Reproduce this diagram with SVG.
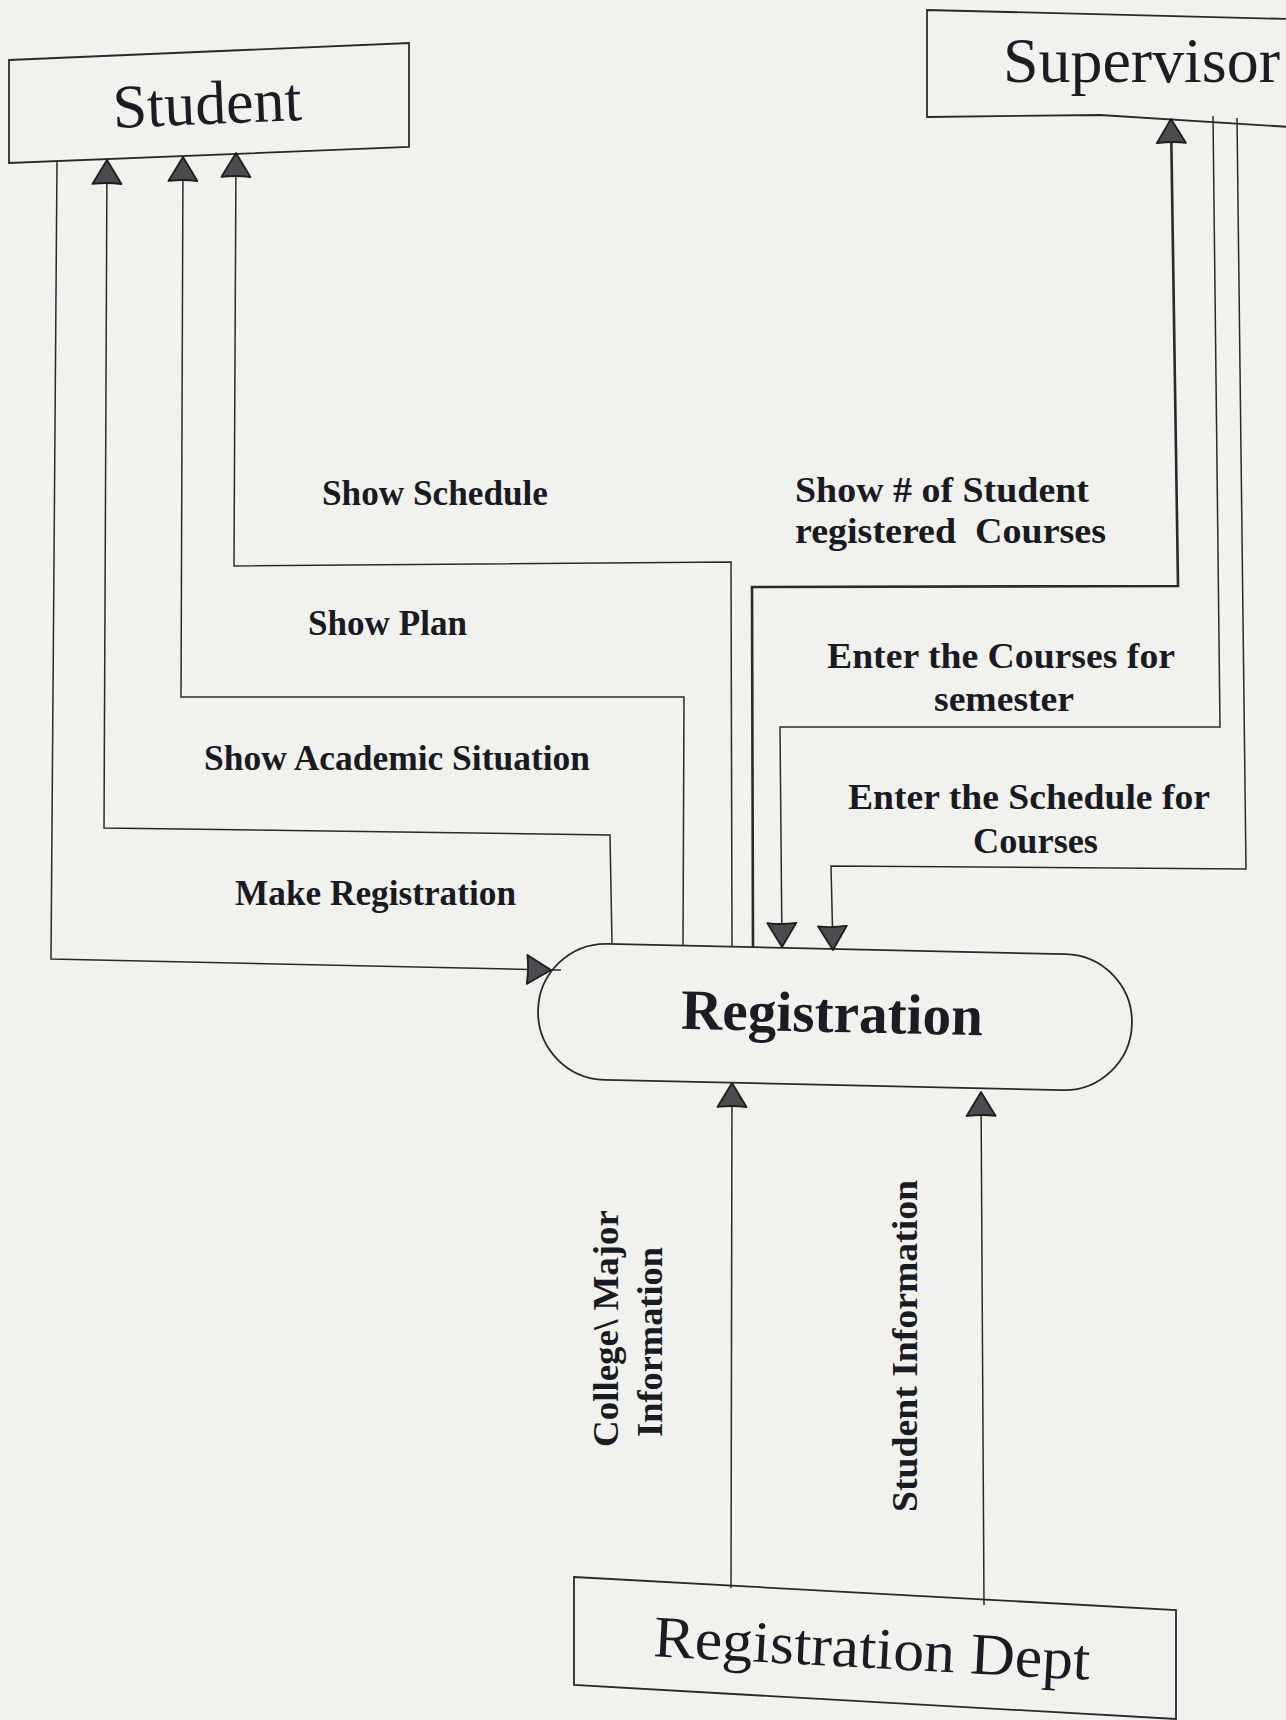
<svg xmlns="http://www.w3.org/2000/svg" width="1286" height="1720" viewBox="0 0 1286 1720">
  <style>
    .bg { fill: #f1f2ee; }
    .box { fill: none; stroke: #2a2a2a; stroke-width: 1.8; stroke-linejoin: miter; }
    .ext { font-family: "Liberation Serif", "Times New Roman", serif; font-weight: normal; fill: #1c1c24; }
    .proc { font-family: "Liberation Serif", "Times New Roman", serif; font-weight: bold; fill: #1c1c24; }
    .lbl { font-family: "Liberation Serif", "Times New Roman", serif; font-weight: bold; font-size: 35px; fill: #1a1a22; }
    .vlbl { font-family: "Liberation Serif", "Times New Roman", serif; font-weight: bold; font-size: 36px; fill: #1a1a22; }
    .flow { fill: none; stroke: #2a2a2a; stroke-width: 1.5; stroke-linejoin: miter; }
    .flow.thick { stroke-width: 2.6; }
  </style>
  <defs>
    <marker id="arrow" viewBox="0 0 26 32" refX="25" refY="16" markerWidth="26" markerHeight="32" markerUnits="userSpaceOnUse" orient="auto">
      <path d="M1,1.5 Q3,16 1,30.5 L25,16 Z" fill="#4c4c50" stroke="#1e1e1e" stroke-width="1.8" stroke-linejoin="round"/>
    </marker>
  </defs>

  <rect class="bg" x="0" y="0" width="1286" height="1720"/>

  <g id="student">
    <polygon class="box" points="9,60 409,43 409,147 9,163"/>
    <text class="ext" x="207" y="124" font-size="62" text-anchor="middle" textLength="189" lengthAdjust="spacingAndGlyphs" transform="rotate(-2.4 207 103)">Student</text>
  </g>

  <g id="supervisor">
    <path class="box" d="M1290,19 L927,10 L927,117 L1100,115 L1290,127"/>
    <text class="ext" x="1003" y="82" font-size="64" textLength="277" lengthAdjust="spacingAndGlyphs">Supervisor</text>
  </g>

  <g id="registration">
    <rect class="box" x="538" y="949" width="594" height="136" rx="68" ry="68" transform="rotate(1.3 835 1017)"/>
    <text class="proc" x="832" y="1032" font-size="57" text-anchor="middle" textLength="302" lengthAdjust="spacingAndGlyphs" transform="rotate(1.2 832 1017)">Registration</text>
  </g>

  <g id="registration-dept">
    <polygon class="box" points="574,1577 1176,1610 1176,1719 574,1685"/>
    <text class="ext" x="872" y="1668" font-size="59" text-anchor="middle" textLength="437" lengthAdjust="spacingAndGlyphs" transform="rotate(3.1 872 1650)">Registration Dept</text>
  </g>

  <g id="connectors">
    <!-- Make Registration: Student -> Registration -->
    <polyline class="flow" points="57,161 51,959 551,970" marker-end="url(#arrow)"/>
    <line class="flow" x1="551" y1="970" x2="561" y2="970"/>
    <!-- Show Academic Situation: Registration -> Student -->
    <polyline class="flow" points="612,944 610,835 104,828 107,160" marker-end="url(#arrow)"/>
    <!-- Show Plan -->
    <polyline class="flow" points="683,946 684,697 181,697 183,157" marker-end="url(#arrow)"/>
    <!-- Show Schedule -->
    <polyline class="flow" points="732,947 731,562 234,566 236,153" marker-end="url(#arrow)"/>
    <!-- Show # of Student registered Courses: Registration -> Supervisor -->
    <polyline class="flow thick" points="753,948 752,587 1178,586 1171,119" marker-end="url(#arrow)"/>
    <!-- Enter the Courses for semester: Supervisor -> Registration -->
    <polyline class="flow" points="1213,116 1220,727 780,727 782,947" marker-end="url(#arrow)"/>
    <!-- Enter the Schedule for Courses: Supervisor -> Registration -->
    <polyline class="flow" points="1237,118 1246,869 831,866 833,950" marker-end="url(#arrow)"/>
    <!-- College\ Major Information: Registration Dept -> Registration -->
    <polyline class="flow" points="731,1588 732,1083" marker-end="url(#arrow)"/>
    <!-- Student Information: Registration Dept -> Registration -->
    <polyline class="flow" points="984,1605 981,1092" marker-end="url(#arrow)"/>
  </g>

  <g id="labels">
    <text class="lbl" x="322" y="505" textLength="226" lengthAdjust="spacingAndGlyphs">Show Schedule</text>
    <text class="lbl" x="308" y="635" textLength="159" lengthAdjust="spacingAndGlyphs">Show Plan</text>
    <text class="lbl" x="204" y="770" textLength="386" lengthAdjust="spacingAndGlyphs">Show Academic Situation</text>
    <text class="lbl" x="235" y="905" textLength="281" lengthAdjust="spacingAndGlyphs">Make Registration</text>
    <text class="lbl" x="795" y="502" textLength="294" lengthAdjust="spacingAndGlyphs">Show # of Student</text>
    <text class="lbl" x="795" y="543" textLength="311" lengthAdjust="spacingAndGlyphs" xml:space="preserve">registered  Courses</text>
    <text class="lbl" x="827" y="668" textLength="348" lengthAdjust="spacingAndGlyphs">Enter the Courses for</text>
    <text class="lbl" x="934" y="711" textLength="140" lengthAdjust="spacingAndGlyphs">semester</text>
    <text class="lbl" x="848" y="809" textLength="362" lengthAdjust="spacingAndGlyphs">Enter the Schedule for</text>
    <text class="lbl" x="973" y="853" textLength="125" lengthAdjust="spacingAndGlyphs">Courses</text>
    <text class="vlbl" x="618" y="1447" textLength="237" lengthAdjust="spacingAndGlyphs" transform="rotate(-90 618 1447)">College\ Major</text>
    <text class="vlbl" x="662" y="1437" textLength="190" lengthAdjust="spacingAndGlyphs" transform="rotate(-90 662 1437)">Information</text>
    <text class="vlbl" x="917" y="1512" textLength="332" lengthAdjust="spacingAndGlyphs" transform="rotate(-90 917 1512)">Student Information</text>
  </g>
</svg>
